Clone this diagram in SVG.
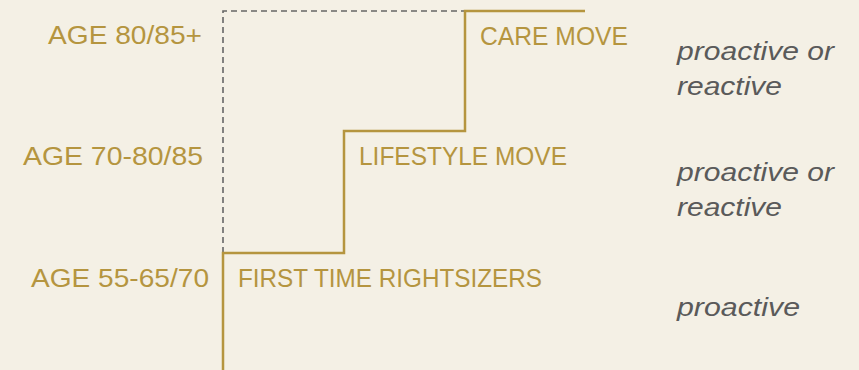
<svg xmlns="http://www.w3.org/2000/svg" width="859" height="370" viewBox="0 0 859 370">
<style>
.bg{fill:#F4F0E5}
.gold{fill:#B5953F;font-family:"Liberation Sans",Arial,sans-serif;font-size:25px}
.note{fill:#5A5A5A;font-family:"Liberation Sans",Arial,sans-serif;font-size:26px;font-style:italic}
.step{fill:none;stroke:#B5953F;stroke-width:2.5}
.dash{fill:none;stroke:#666;stroke-width:1.6;stroke-dasharray:6 4}
</style>
<rect class="bg" x="0" y="0" width="859" height="370"/>
<g id="connectors">
<path class="dash" d="M223 253 V11 H465"/>
<path class="step" d="M223 370 V253 H344 V131 H465 V11 H585"/>
</g>
<g id="age80"><text class="gold" x="48" y="44" textLength="154" lengthAdjust="spacingAndGlyphs">AGE 80/85+</text></g>
<g id="age70"><text class="gold" x="23" y="165" textLength="180" lengthAdjust="spacingAndGlyphs">AGE 70-80/85</text></g>
<g id="age55"><text class="gold" x="31" y="287" textLength="178" lengthAdjust="spacingAndGlyphs">AGE 55-65/70</text></g>
<g id="care"><text class="gold" x="480" y="45" textLength="148" lengthAdjust="spacingAndGlyphs">CARE MOVE</text></g>
<g id="lifestyle"><text class="gold" x="359" y="165" textLength="208" lengthAdjust="spacingAndGlyphs">LIFESTYLE MOVE</text></g>
<g id="first"><text class="gold" x="238" y="287" textLength="304" lengthAdjust="spacingAndGlyphs">FIRST TIME RIGHTSIZERS</text></g>
<g id="note1"><text class="note" x="677" y="60" textLength="157" lengthAdjust="spacingAndGlyphs">proactive or</text><text class="note" x="677" y="95" textLength="105" lengthAdjust="spacingAndGlyphs">reactive</text></g>
<g id="note2"><text class="note" x="677" y="181" textLength="157" lengthAdjust="spacingAndGlyphs">proactive or</text><text class="note" x="677" y="216" textLength="105" lengthAdjust="spacingAndGlyphs">reactive</text></g>
<g id="note3"><text class="note" x="677" y="316" textLength="123" lengthAdjust="spacingAndGlyphs">proactive</text></g>
</svg>
